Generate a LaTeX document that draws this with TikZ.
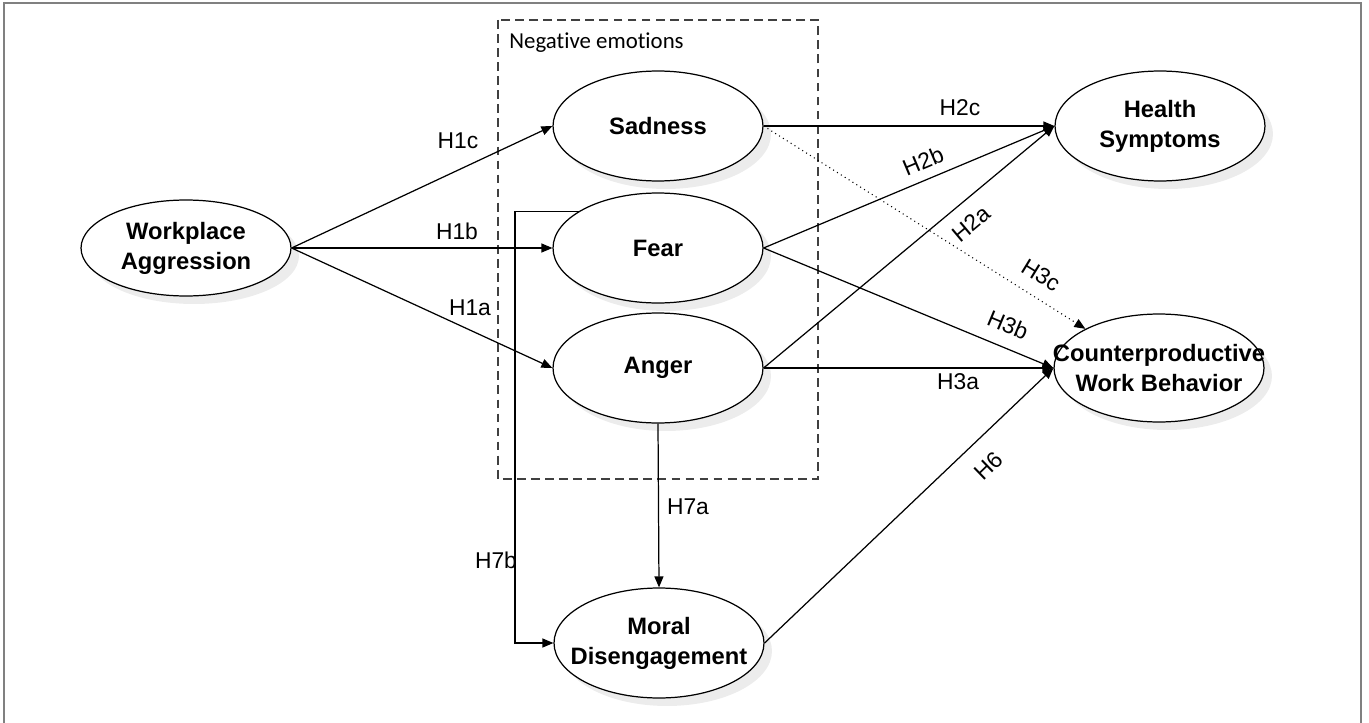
\documentclass[tikz,border=0pt]{standalone}
\usepackage{fontspec}
\setmainfont{Liberation Sans}
\newfontfamily\boxfont[Ligatures=NoCommon]{Carlito}
\usetikzlibrary{shapes.geometric, arrows.meta, shadows}
\tikzstyle{construct}=[draw, ellipse, line width=0.7pt, fill=white,
  minimum width=4.2cm, minimum height=2.2cm, inner sep=0pt, align=center,
  font=\fontsize{13.5}{17}\selectfont\bfseries,
  drop shadow={shadow xshift=0.16cm, shadow yshift=-0.16cm, fill=black!15}]
\tikzstyle{hyp}=[font=\fontsize{13}{15}\selectfont, inner sep=0pt]
\tikzstyle{group}=[draw=black!75, line width=0.7pt, dash pattern=on 5pt off 3pt]
\newcommand{\zw}[1]{\makebox[0pt]{#1}}

\begin{document}
\begin{tikzpicture}[x=0.02cm, y=-0.02cm, line width=0.7pt,
    >={Triangle[length=0.22cm,width=0.18cm]}]
  \useasboundingbox (0,0) rectangle (1369,723);
  % outer frame
  \draw[black!50, line width=1.3pt] (4,760) -- (4,3) -- (1361,3) -- (1361,760);
  % negative emotions group
  \draw[group] (498,20) rectangle (818,479);
  \node[anchor=west, font=\boxfont\fontsize{13}{15}\selectfont] (negtitle) at (503,43) {Negative emotions};

  \node[construct, minimum height=1.92cm] (wa) at (186,248) {\zw{Workplace}\\\zw{Aggression}};
  \node[construct] (sad) at (658,126) {Sadness};
  \node[construct] (fear) at (658,248) {Fear};
  \node[construct] (anger) at (658,368) {Anger};
  \node[construct] (moral) at (659,643) {\zw{Moral}\\\zw{Disengagement}};
  \node[construct] (health) at (1160,126) {\zw{Health}\\\zw{Symptoms}};
  \node[construct, minimum height=2.16cm] (cwb) at (1159,368) {\zw{Counterproductive}\\\zw{Work Behavior}};

  \draw[->] (wa.east) -- (sad.west);
  \draw[->] (wa.east) -- (fear.west);
  \draw[->] (wa.east) -- (anger.west);
  \draw[->] (sad.east) -- (health.west);
  \draw[->] (fear.east) -- (health.west);
  \draw[->] (anger.east) -- (health.west);
  \draw[->, dotted, line width=0.6pt] (sad.east) -- (cwb.152);
  \draw[->] (fear.east) -- (cwb.west);
  \draw[->] (anger.east) -- (cwb.west);
  \draw[->] (moral.east) -- (cwb.west);
  \draw[->] (anger.south) -- (moral.north);
  \draw[->] (fear.155) -- ++(-64,0) |- (moral.west);

  \node[hyp] (h1c) at (458,141) {H1c};
  \node[hyp] (h1b) at (457,231) {H1b};
  \node[hyp] (h1a) at (470,308) {H1a};
  \node[hyp] (h2c) at (960,108) {H2c};
  \node[hyp, rotate=22.8] (h2b) at (923,161) {H2b};
  \node[hyp, rotate=40] (h2a) at (971,224) {H2a};
  \node[hyp, rotate=-31.5] (h3c) at (1041,275) {H3c};
  \node[hyp, rotate=-22.7] (h3b) at (1008,325) {H3b};
  \node[hyp] (h3a) at (958,382) {H3a};
  \node[hyp, rotate=44] (h6) at (989,466) {H6};
  \node[hyp] (h7a) at (688,507) {H7a};
  \node[hyp] (h7b) at (496,560) {H7b};
\end{tikzpicture}
\end{document}
